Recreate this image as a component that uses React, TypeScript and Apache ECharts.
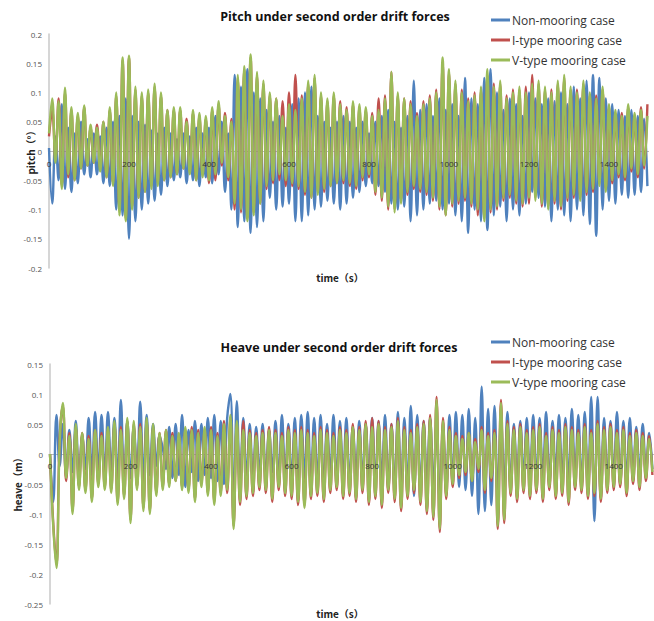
import React, { useEffect, useRef } from "react";
import * as echarts from "echarts";

// sampling step of the read-off values (seconds)
const timeStep = 8;
const seriesNames = ["Non-mooring case", "I-type mooring case", "V-type mooring case"];
const seriesColors = ["#4F81BD", "#C0504D", "#9BBB59"];

// Pitch values (thousandths of a degree)
const pitchNon = [
  5, -90, 25, -50, 80, -65, 40, -70, 30, -55, 50, -40, 20, -45, 30, -40, 25, -55, 40, -60, 50, -100, 60, -110, 90,
  -150, 60, -120, 50, -100, 45, -90, 35, -85, 30, -75, 40, -60, 30, -50, 20, -45, 30, -55, 25, -50, 40, -60, 30, -45,
  40, -55, 60, -40, 50, -70, 30, -100, 130, -130, 110, -120, 140, -140, 100, -130, 90, -120, 70, -80, 50, -100, 60, -95, 40,
  -90, 80, -120, 90, -120, 100, -110, 110, -100, 60, -95, 50, -85, 40, -90, 50, -100, 60, -90, 50, -80, 40, -70, 50, -60,
  30, -55, 50, -60, 60, -70, 70, -90, 50, -100, 40, -95, 60, -120, 120, -110, 70, -100, 80, -90, 60, -85, 90, -100, 70,
  -90, 80, -110, 60, -120, 125, -140, 90, -100, 80, -120, 125, -135, 140, -110, 100, -95, 70, -120, 90, -100, 80, -110, 60, -90,
  100, -70, 90, -80, 80, -95, 90, -120, 85, -100, 100, -110, 80, -120, 110, -100, 90, -110, 120, -125, 130, -145, 125, -100, 90,
  -85, 80, -90, 70, -75, 60, -80, 70, -75, 60, -70, 55, -60,
];
const pitchI = [
  25, 70, -15, 90, -60, 100, -45, 70, -50, 60, -30, 75, -25, 40, -20, 45, -30, 50, -45, 70, -55, 95, -100, 155, -115,
  160, -95, 105, -80, 95, -70, 100, -60, 110, -55, 95, -50, 70, -45, 70, -40, 70, -30, 55, -35, 65, -50, 60, -40, 55,
  -55, 70, -50, 80, -25, 65, -50, 55, -100, 125, -105, 140, -115, 160, -105, 130, -90, 115, -65, 95, -55, 90, -50, 85, -60,
  100, -60, 130, -65, 95, -75, 115, -80, 125, -70, 95, -70, 85, -60, 95, -55, 85, -55, 75, -60, 80, -65, 75, -50, 70,
  -45, 65, -75, 90, -85, 95, -100, 135, -100, 95, -85, 90, -75, 85, -65, 65, -70, 85, -75, 95, -85, 105, -100, 150, -110,
  135, -95, 115, -90, 105, -85, 90, -95, 100, -110, 105, -115, 130, -105, 115, -100, 115, -85, 95, -80, 105, -90, 105, -95, 110,
  -90, 130, -80, 115, -95, 105, -95, 105, -90, 115, -100, 125, -85, 105, -80, 105, -80, 115, -75, 95, -70, 95, -55, 105, -65,
  75, -55, 65, -45, 65, -50, 75, -35, 60, -45, 75, -30, 80,
];
const pitchV = [
  30, 90, -20, 85, -65, 108, -40, 75, -50, 65, -30, 78, -25, 45, -20, 40, -35, 50, -45, 75, -60, 100, -110, 160, -120,
  163, -100, 110, -80, 100, -70, 105, -65, 115, -60, 100, -50, 70, -45, 75, -40, 75, -30, 50, -40, 70, -50, 65, -45, 60,
  -50, 75, -40, 85, -20, 60, -45, 50, -90, 130, -100, 145, -120, 165, -110, 135, -90, 120, -60, 100, -50, 90, -40, 60, -50,
  80, -55, 70, -60, 90, -70, 120, -80, 130, -75, 100, -65, 90, -60, 100, -55, 80, -50, 70, -55, 85, -60, 80, -45, 75,
  -40, 60, -70, 70, -80, 90, -95, 135, -105, 100, -90, 90, -70, 80, -60, 60, -65, 80, -70, 90, -80, 100, -95, 160, -110,
  140, -90, 120, -85, 100, -80, 85, -90, 95, -100, 110, -120, 140, -100, 110, -95, 120, -80, 90, -75, 100, -85, 110, -90, 100,
  -80, 115, -85, 120, -90, 110, -100, 100, -85, 120, -95, 130, -80, 110, -75, 100, -85, 120, -70, 100, -65, 90, -60, 110, -70,
  80, -50, 70, -40, 60, -45, 80, -30, 65, -40, 70, -25, 60,
];

// Heave values (millimetres)
const heaveNon = [
  0, -80, 65, -20, 50, -35, 40, -30, 55, -40, 30, -25, 60, -35, 70, -30, 65, -40, 70, -30, 60, -45, 90, -50, 55,
  -40, 45, -30, 87, -45, 65, -35, 50, -20, 30, 10, -25, 45, -40, 50, -35, 65, -55, 40, -30, 55, -45, 50, -35, 60,
  -40, 65, -45, 55, -50, 60, 100, -105, 88, -55, 60, -40, 50, -45, 45, -35, 50, -40, 40, -30, 55, -45, 65, -40, 50,
  -45, 60, -50, 65, -40, 70, -55, 60, -45, 65, -60, 50, -35, 65, -45, 55, -40, 60, -50, 45, -35, 55, -45, 50, -40,
  60, -50, 55, -45, 65, -55, 50, -60, 70, -65, 60, -55, 80, -70, 65, -60, 55, -50, 60, -55, 50, -80, 40, -60, 65,
  -45, 70, -55, 65, -60, 75, -70, 60, -100, 112, -95, 75, -85, 80, -70, 60, -60, 70, -55, 50, -45, 55, -40, 60, -50,
  65, -45, 60, -40, 70, -50, 55, -35, 65, -45, 60, -50, 75, -40, 65, -55, 70, -60, 95, -112, 95, -70, 60, -45, 55,
  -40, 70, -50, 55, -45, 60, -40, 45, -35, 50, -30, 35, -25,
];
const heaveI = [
  0, -115, -185, 25, 80, -45, 35, -95, 45, -55, 35, -60, 30, -75, 40, -50, 35, -55, 40, -60, 50, -80, 45, -70, 55,
  -110, 50, -55, 50, -90, 55, -95, 45, -65, 35, -55, 40, -50, 35, -45, 30, -55, 40, -60, 45, -75, 40, -50, 40, -65,
  45, -80, 35, -65, 55, -65, 60, -120, 50, -85, 55, -75, 40, -70, 35, -60, 40, -65, 45, -80, 40, -60, 35, -70, 45,
  -75, 40, -85, 45, -85, 40, -75, 35, -70, 45, -80, 40, -65, 35, -60, 45, -75, 40, -70, 50, -80, 45, -65, 55, -85,
  60, -75, 55, -90, 45, -65, 50, -80, 60, -95, 45, -75, 40, -65, 50, -85, 55, -100, 65, -110, 95, -130, 60, -75, 45,
  -55, 35, -40, 30, -35, 35, -45, 25, -30, 45, -65, 35, -45, 40, -125, 90, -115, 55, -70, 45, -80, 50, -65, 40, -75,
  45, -65, 50, -80, 35, -60, 45, -75, 40, -70, 50, -85, 45, -60, 40, -65, 50, -75, 40, -70, 55, -80, 45, -65, 50,
  -60, 40, -55, 45, -70, 35, -50, 40, -60, 35, -45, 30, -35,
];
const heaveV = [
  0, -120, -190, 20, 85, -40, 30, -100, 50, -60, 35, -65, 25, -80, 40, -55, 30, -60, 45, -65, 55, -85, 40, -75, 60,
  -115, 55, -60, 45, -95, 60, -100, 50, -70, 35, -60, 40, -55, 30, -45, 35, -60, 45, -65, 40, -80, 35, -55, 45, -70,
  40, -85, 30, -70, 50, -60, 65, -125, 55, -80, 40, -70, 35, -65, 30, -55, 35, -60, 40, -75, 35, -55, 30, -65, 40,
  -70, 35, -80, 40, -90, 35, -70, 30, -65, 40, -75, 35, -60, 30, -55, 40, -70, 35, -65, 45, -75, 40, -60, 50, -80,
  45, -70, 50, -85, 40, -60, 45, -75, 55, -90, 40, -70, 35, -60, 45, -80, 50, -95, 60, -105, 90, -125, 55, -70, 40,
  -50, 30, -35, 25, -30, 35, -45, 20, -25, 40, -60, 30, -40, 35, -120, 85, -110, 50, -65, 40, -75, 45, -60, 35, -70,
  40, -60, 45, -75, 30, -55, 40, -70, 35, -65, 45, -80, 40, -55, 35, -60, 45, -70, 35, -65, 50, -75, 40, -60, 45,
  -55, 35, -50, 40, -65, 30, -45, 35, -55, 30, -40, 25, -30,
];

const toPairs = (vals: number[]) => vals.map((v, i) => [i * timeStep, v / 1000]);

const FONT = "'Open Sans', 'Noto Sans', sans-serif";
const CJK = "'Noto Sans CJK SC', 'Noto Sans', sans-serif";

export default function App() {
  const ref = useRef<HTMLDivElement>(null);
  useEffect(() => {
    if (!ref.current) return;
    const chart = echarts.init(ref.current, null, { renderer: "svg" });
    const xAxisBase = (gridIndex: number, offset: number) => ({
      type: "value" as const,
      gridIndex,
      min: 0,
      max: 1500,
      interval: 200,
      offset,
      z: 20,
      axisLine: { show: false, onZero: false },
      axisTick: { show: false },
      splitLine: { show: false },
      axisLabel: {
        fontSize: 8,
        color: "#333",
        margin: 8,
        fontFamily: FONT,
        showMaxLabel: false,
        formatter: (v: number) => String(v),
      },
    });
    const yAxisBase = (gridIndex: number, min: number, max: number) => ({
      type: "value" as const,
      gridIndex,
      min,
      max,
      interval: 0.05,
      axisLine: { show: true, onZero: false, lineStyle: { color: "#c8c8c8", width: 1.5 } },
      axisTick: { show: false },
      splitLine: { show: false },
      axisLabel: { fontSize: 8, color: "#555", margin: 7, fontFamily: FONT },
    });
    const zeroLine = {
      silent: true,
      z: 1,
      symbol: "none",
      label: { show: false },
      lineStyle: { color: "#b8b8b8", width: 1, type: "solid" as const },
      data: [{ yAxis: 0 }],
    };
    const mk = (name: string, idx: number, vals: number[], axisIndex: number) => ({
      name,
      type: "line" as const,
      xAxisIndex: axisIndex,
      yAxisIndex: axisIndex,
      data: toPairs(vals),
      smooth: 0.4,
      symbol: "none",
      lineStyle: { color: seriesColors[idx], width: 2.4 },
      itemStyle: { color: seriesColors[idx] },
      z: 2 + idx,
      ...(idx === 0 ? { markLine: zeroLine } : {}),
    });
    const legendBase = (top: number) => ({
      orient: "vertical" as const,
      left: 486,
      top,
      itemGap: 8,
      itemWidth: 19,
      itemHeight: 3,
      icon: "rect",
      textStyle: { fontSize: 12, color: "#333", fontFamily: FONT, padding: [0, 0, 0, -3] },
      data: seriesNames,
    });
    chart.setOption({
      animation: false,
      backgroundColor: "#fff",
      title: [
        {
          text: "Pitch under second order drift forces",
          left: 330,
          top: 5,
          textAlign: "center",
          textStyle: { fontSize: 12.5, fontWeight: "bold", color: "#111", fontFamily: FONT },
        },
        {
          text: "Heave under second order drift forces",
          left: 334,
          top: 336,
          textAlign: "center",
          textStyle: { fontSize: 12.5, fontWeight: "bold", color: "#111", fontFamily: FONT },
        },
      ],
      legend: [{ ...legendBase(9) }, { ...legendBase(331) }],
      grid: [
        { left: 49, top: 34, width: 600, height: 234 },
        { left: 50, top: 364, width: 604, height: 240 },
      ],
      // x axes drawn along value 0 of each y axis (offset from the grid bottom)
      xAxis: [xAxisBase(0, -117), xAxisBase(1, -151)],
      yAxis: [yAxisBase(0, -0.2, 0.2), yAxisBase(1, -0.25, 0.15)],
      series: [
        mk(seriesNames[0], 0, pitchNon, 0),
        mk(seriesNames[1], 1, pitchI, 0),
        mk(seriesNames[2], 2, pitchV, 0),
        mk(seriesNames[0], 0, heaveNon, 1),
        mk(seriesNames[1], 1, heaveI, 1),
        mk(seriesNames[2], 2, heaveV, 1),
      ],
      graphic: [
        {
          type: "text",
          x: 30,
          y: 150,
          rotation: Math.PI / 2,
          style: {
            text: "pitch（°）",
            font: `bold 10px ${CJK}`,
            fill: "#222",
            textAlign: "center",
            textVerticalAlign: "middle",
          },
        },
        {
          type: "text",
          x: 340,
          y: 277,
          style: {
            text: "time（s）",
            font: `bold 10px ${CJK}`,
            fill: "#222",
            textAlign: "center",
            textVerticalAlign: "middle",
          },
        },
        {
          type: "text",
          x: 17,
          y: 482,
          rotation: Math.PI / 2,
          style: {
            text: "heave（m）",
            font: `bold 10px ${CJK}`,
            fill: "#222",
            textAlign: "center",
            textVerticalAlign: "middle",
          },
        },
        {
          type: "text",
          x: 340,
          y: 613,
          style: {
            text: "time（s）",
            font: `bold 10px ${CJK}`,
            fill: "#222",
            textAlign: "center",
            textVerticalAlign: "middle",
          },
        },
      ],
    });
    return () => chart.dispose();
  }, []);
  return (
    <div
      ref={ref}
      style={{ position: "absolute", left: 0, top: 0, width: 654, height: 621, background: "#fff" }}
    />
  );
}
